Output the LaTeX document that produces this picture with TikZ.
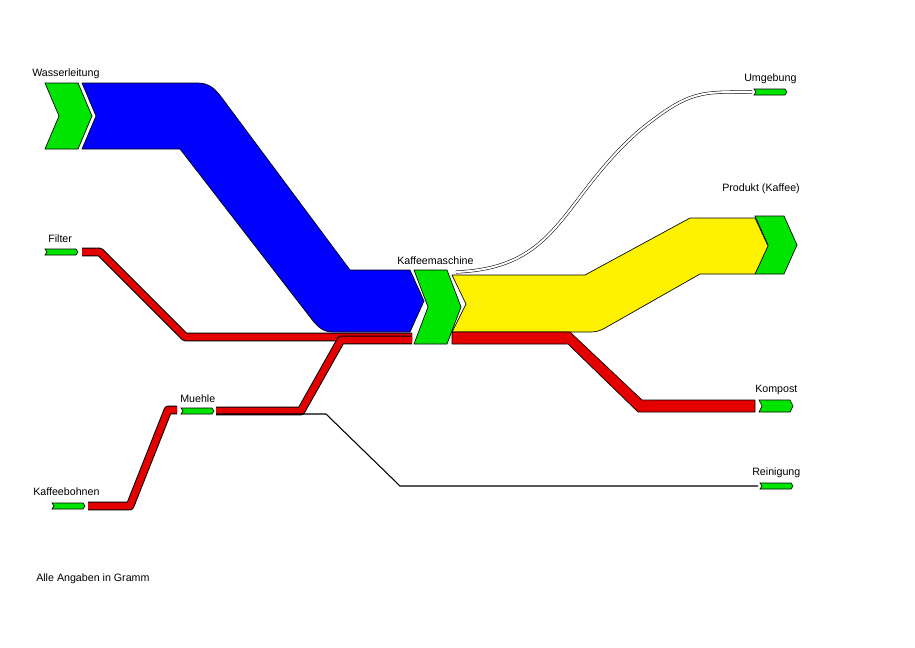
\documentclass[tikz,border=0pt]{standalone}
\usepackage{fontspec}
\setmainfont{Liberation Sans}
\begin{document}
\begin{tikzpicture}[x=0.75pt,y=-0.75pt,
  lab/.style={anchor=west,inner sep=0pt,font=\fontsize{8}{9}\selectfont},
  gr/.style={fill=green!90!black,draw=black,line width=0.5pt},
  fl/.style={draw=black,line width=0.5pt,line join=round},
  redl/.style={line width=6.5pt,draw=black,line cap=butt,line join=round,
     postaction={draw=red!90!black,line width=5pt}}]
\useasboundingbox (0,0) rectangle (915,647);
\newcommand\chev[5]{\fill[gr,draw=black] (#1,#2) -- ++(#3,0) -- ++(#5,#4/2) -- ++(-#5,#4/2) -- ++(-#3,0) -- ++(#5,-#4/2) -- cycle;}
% green nodes
\chev{45}{83}{33}{66}{14}
\chev{414}{270}{33}{74}{14}
\chev{755}{216}{29}{58}{13}
\chev{45}{249}{31}{6}{2}
\chev{52}{503}{31}{6}{2}
\chev{181}{408}{31}{6}{2}
\chev{754}{89}{31}{6}{2}
\chev{759}{400}{31}{12}{3}
\chev{760}{483}{31}{6}{2}
% blue
\fill[blue,fl] (82,83) -- (198,83) .. controls (210,83) and (216,90) .. (222,98) -- (350,270) -- (410,270) -- (424,301) -- (410,332) -- (332,332) .. controls (322,332) and (316,325) .. (310,317) -- (180,149) -- (82,149) -- (96,116) -- cycle;
% yellow
\fill[yellow,fl] (452,275) -- (585,275) -- (690,218) -- (755,218) -- (768,246) -- (755,274) -- (700,274) -- (605,328) .. controls (598,332) and (594,332) .. (588,332) -- (452,332) -- (466,304) -- cycle;
% red out
\fill[red!90!black,fl] (452,332) -- (570,332) -- (642,400) -- (755,400) -- (755,412) -- (638,412) -- (568,344) -- (452,344) -- cycle;
% red lines
\draw[redl] (82,252) -- (100,252) -- (185,337) -- (412,337);
\draw[redl] (216,411) -- (301,411) -- (341,340) -- (412,340);
\draw[redl] (88,506) -- (130,506) -- (168,410) -- (177,410);
% Reinigung
\draw[line width=0.8pt] (216,414) -- (326,414) -- (400,486) -- (758,486);
% Umgebung
\draw[double,line width=0.4pt,double distance=1.5pt] (456,272) .. controls (560,268) and (560,200) .. (640,130) .. controls (690,90) and (700,92) .. (752,92);
% labels
\node[lab] at (32,74) {Wasserleitung};
\node[lab] at (48,239) {Filter};
\node[lab] at (397,261) {Kaffeemaschine};
\node[lab] at (180,399) {Muehle};
\node[lab] at (33,492) {Kaffeebohnen};
\node[lab] at (744,79) {Umgebung};
\node[lab] at (722,189) {Produkt (Kaffee)};
\node[lab] at (755,390) {Kompost};
\node[lab] at (752,473) {Reinigung};
\node[lab] at (36,579) {Alle Angaben in Gramm};
\end{tikzpicture}
\end{document}
